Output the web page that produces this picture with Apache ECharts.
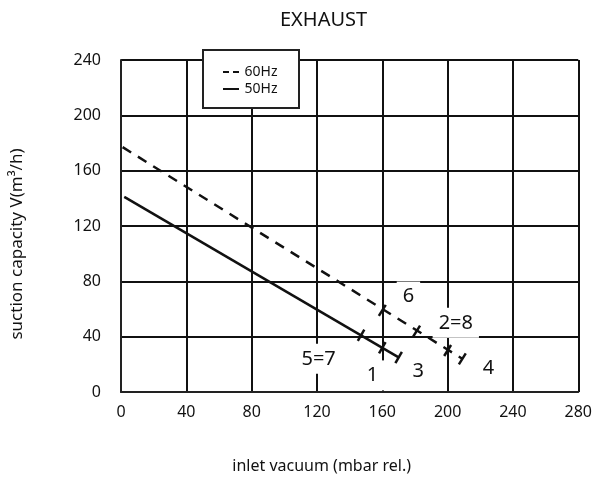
<!DOCTYPE html>
<html>
<head>
<meta charset="utf-8">
<script src="https://cdn.jsdelivr.net/npm/echarts@6/dist/echarts.min.js"></script>
<style>
  html, body { margin: 0; padding: 0; background: #fff; }
  #chart { width: 595px; height: 479px; }
</style>
</head>
<body>
<div id="chart"></div>
<script>
// line end points (x: mbar, y: m3/h)
const hz60 = [[1, 177], [209, 24]];
const hz50 = [[2, 141], [170, 25]];
// short cross marks on the curves
const marks60 = [[160, 59], [181, 44], [200, 30], [209, 24]];
const marks50 = [[147, 41], [160, 32], [170, 25]];
// numbered annotations
const noteText = ['6', '2=8', '5=7', '1', '3', '4'];
const notePos = [[176, 69], [205, 50], [121, 24], [154, 12], [182, 15], [225, 17]];

const font = '"Noto Sans", "Open Sans", sans-serif';

let chart = echarts.init(document.getElementById('chart'));

let option = {
  animation: false,
  title: {
    text: 'EXHAUST',
    left: 275,
    top: 5,
    textStyle: { fontFamily: font, fontWeight: 'normal', fontSize: 20, color: '#111' }
  },
  grid: { left: 121, right: 15, top: 60, bottom: 86 },
  legend: {
    data: [
      { name: '60Hz', icon: 'path://M0,0h6v2h-6z M10,0h6v2h-6z' },
      { name: '50Hz', icon: 'path://M0,0h16v2h-16z' }
    ],
    orient: 'vertical',
    left: 223,
    top: 65,
    itemWidth: 17,
    itemHeight: 2,
    itemGap: 3,
    padding: 0,
    z: 10,
    itemStyle: { color: '#111' },
    textStyle: { fontFamily: font, fontSize: 14, color: '#111' }
  },
  graphic: [{
    type: 'rect',
    left: 202,
    top: 49,
    z: 5,
    shape: { width: 96, height: 58 },
    style: { fill: '#fff', stroke: '#222', lineWidth: 2 }
  }],
  xAxis: {
    type: 'value',
    min: 0, max: 280, interval: 40,
    name: 'inlet vacuum (mbar rel.)',
    nameLocation: 'middle',
    nameGap: 66,
    nameTextStyle: { fontFamily: font, fontSize: 16, color: '#111', padding: [0, 56, 0, 0] },
    axisLine: { show: true, lineStyle: { color: '#222', width: 2 } },
    axisTick: { show: false },
    axisLabel: { fontFamily: font, fontSize: 16, color: '#111', margin: 12 },
    splitLine: { lineStyle: { color: '#111', width: 2 } }
  },
  yAxis: {
    type: 'value',
    min: 0, max: 240, interval: 40,
    name: 'suction capacity V(m³/h)',
    nameLocation: 'middle',
    nameGap: 95,
    nameTextStyle: { fontFamily: font, fontSize: 17, color: '#111', padding: [0, 36, 0, 0] },
    axisLine: { show: true, lineStyle: { color: '#222', width: 2 } },
    axisTick: { show: false },
    axisLabel: { fontFamily: font, fontSize: 16, color: '#111', margin: 20 },
    splitLine: { lineStyle: { color: '#111', width: 2 } }
  },
  series: [
    {
      name: 'notes',
      type: 'scatter',
      z: 2,
      symbolSize: 0,
      itemStyle: { opacity: 1 },
      data: notePos.map((p, i) => ({ value: p, name: noteText[i] })),
      label: {
        show: true,
        position: 'inside',
        formatter: '{b}',
        fontFamily: font,
        fontSize: 20,
        color: '#111',
        opacity: 1,
        backgroundColor: '#fff',
        padding: [5, 6]
      }
    },
    {
      name: '60Hz',
      type: 'line',
      z: 4,
      symbol: 'none',
      data: hz60,
      lineStyle: { color: '#111', width: 2.5, type: [10, 8] },
      itemStyle: { color: '#111' }
    },
    {
      name: '50Hz',
      type: 'line',
      z: 4,
      symbol: 'none',
      data: hz50,
      lineStyle: { color: '#111', width: 2.5 },
      itemStyle: { color: '#111' }
    },
    {
      type: 'scatter',
      z: 4,
      symbol: 'rect',
      symbolSize: [2.5, 13],
      symbolRotate: -32,
      itemStyle: { color: '#111', opacity: 1 },
      data: marks60
    },
    {
      type: 'scatter',
      z: 4,
      symbol: 'rect',
      symbolSize: [2.5, 13],
      symbolRotate: -30,
      itemStyle: { color: '#111', opacity: 1 },
      data: marks50
    }
  ]
};

option && chart.setOption(option);
</script>
</body>
</html>
